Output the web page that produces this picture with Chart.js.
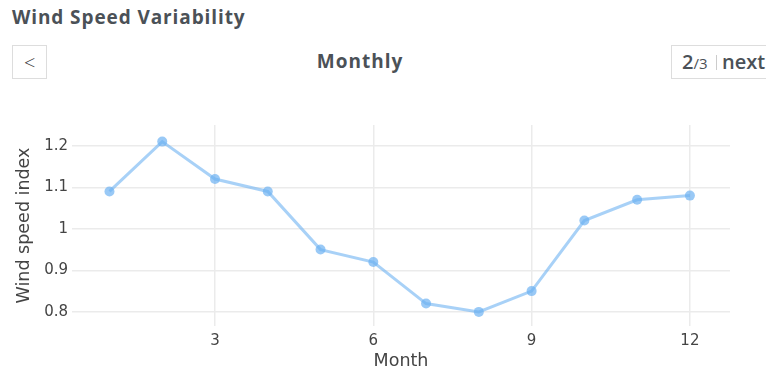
<!DOCTYPE html>
<html>
<head>
<meta charset="utf-8">
<script src="https://cdn.jsdelivr.net/npm/chart.js@4.4.0/dist/chart.umd.min.js"></script>
<style>
  html, body { margin: 0; padding: 0; background: #fff; }
  body { width: 766px; height: 370px; position: relative; overflow: hidden; font-family: "Open Sans", sans-serif; color: #4b5157; }
  #title { position: absolute; left: 12px; top: 4px; font-size: 19px; font-weight: 700; letter-spacing: 0.9px; }
  #prev { position: absolute; left: 12px; top: 45px; width: 33px; height: 32px; border: 1px solid #ddd; }
  #prev span { position: absolute; left: 11px; top: 3px; font-size: 20px; font-weight: 300; color: #333; }
  #period { position: absolute; left: 0; width: 720px; top: 48px; text-align: center; font-size: 19px; font-weight: 700; letter-spacing: 1px; }
  #pager { position: absolute; left: 671px; top: 45px; width: 120px; height: 32px; border: 1px solid #ddd; }
  #pager .num { position: absolute; left: 10px; top: 2px; font-size: 20px; font-weight: 600; }
  #pager .num small { font-size: 15px; font-weight: 400; }
  #pager .sep { position: absolute; left: 44px; top: 9px; width: 1px; height: 15px; background: #ccc; }
  #pager .next { position: absolute; left: 50px; top: 2px; font-size: 20px; font-weight: 600; }
  #wrap { position: absolute; left: 0; top: 90px; width: 766px; height: 280px; }
</style>
</head>
<body>
<div id="title">Wind Speed Variability</div>
<div id="prev"><span>&lt;</span></div>
<div id="period">Monthly</div>
<div id="pager"><span class="num">2<small>/3</small></span><span class="sep"></span><span class="next">next</span></div>
<div id="wrap"><canvas id="windChart" width="766" height="280"></canvas></div>
<script>
const months = [1, 2, 3, 4, 5, 6, 7, 8, 9, 10, 11, 12];
const windIndex = [1.09, 1.21, 1.12, 1.09, 0.95, 0.92, 0.82, 0.80, 0.85, 1.02, 1.07, 1.08];
const monthTicks = [3, 6, 9, 12];
const indexTicks = [0.8, 0.9, 1.0, 1.1, 1.2];

const gridColor = "#ebebeb";
const axisFont = "DejaVu Sans";
const tickFont = { family: axisFont, size: 15 };

const ctx = document.getElementById("windChart").getContext("2d");
const chart = new Chart(ctx, {
  type: "line",
  data: {
    datasets: [
      {
        label: "Wind speed index",
        data: months.map((m, i) => ({ x: m, y: windIndex[i] })),
        borderColor: "rgba(110, 178, 242, 0.6)",
        borderWidth: 3,
        pointBackgroundColor: "rgba(110, 178, 242, 0.7)",
        pointBorderWidth: 0,
        pointRadius: 5,
        tension: 0,
      },
    ],
  },
  options: {
    responsive: false,
    animation: false,
    layout: { padding: { top: 35, right: 36, left: 0, bottom: 0 } },
    plugins: { legend: { display: false }, tooltip: { enabled: false } },
    scales: {
      x: {
        type: "linear",
        min: 0.29,
        max: 12.76,
        afterBuildTicks: (s) => { s.ticks = monthTicks.map((v) => ({ value: v })); },
        afterFit: (s) => { s.height = 44; },
        grid: { color: gridColor, lineWidth: 1.5, drawTicks: false },
        border: { display: false },
        ticks: { color: "#444", font: tickFont, padding: 6, maxRotation: 0 },
        title: { display: true, text: "Month", color: "#444", font: { family: axisFont, size: 17.5, lineHeight: 1 }, padding: { top: 0, bottom: 0 } },
      },
      y: {
        min: 0.766,
        max: 1.25,
        afterBuildTicks: (s) => { s.ticks = indexTicks.map((v) => ({ value: v })); },
        afterFit: (s) => { s.width = 72; },
        grid: { color: gridColor, lineWidth: 1.5, drawTicks: false },
        border: { display: false },
        ticks: { color: "#444", font: tickFont, padding: 4, callback: (v) => String(+v.toFixed(1)) },
        title: { display: true, text: "Wind speed index", color: "#444", font: { family: axisFont, size: 17.5 }, padding: { top: 14, bottom: 0 } },
      },
    },
  },
});
</script>
</body>
</html>
